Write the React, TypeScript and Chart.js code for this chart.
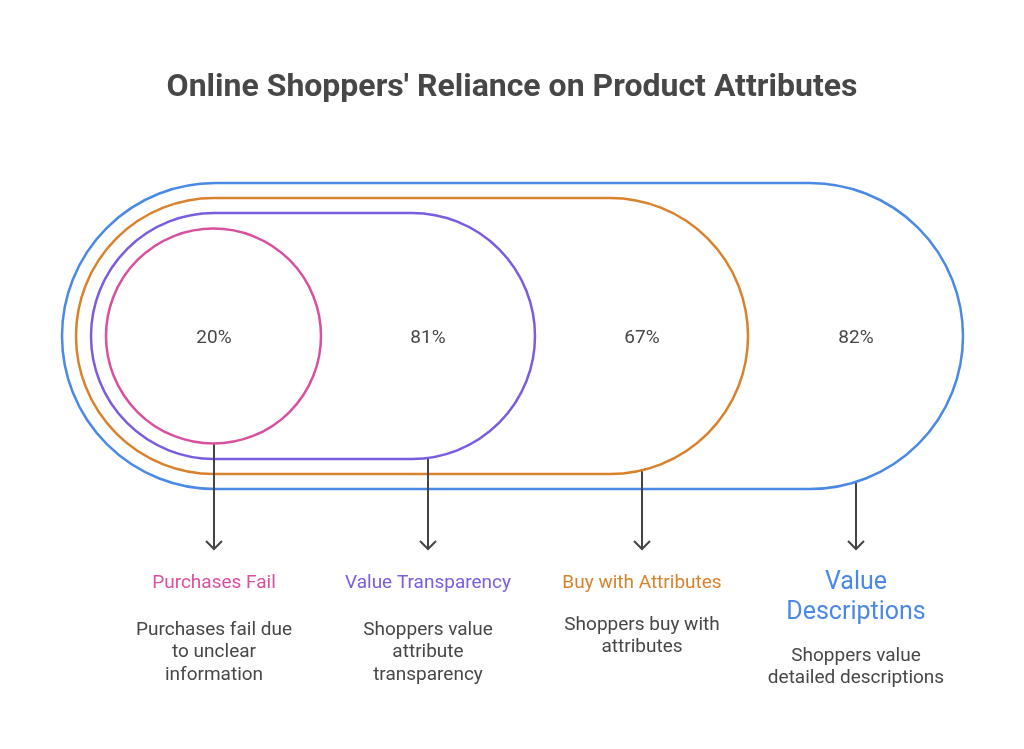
import React, { useEffect, useRef } from "react";
import { Chart, registerables } from "chart.js";

Chart.register(...registerables);

const title = "Online Shoppers' Reliance on Product Attributes";
const categories = ["Purchases Fail", "Value Transparency", "Buy with Attributes", "Value Descriptions"];
const values = [20, 81, 67, 82];
const descriptions = [
  ["Purchases fail due", "to unclear", "information"],
  ["Shoppers value", "attribute", "transparency"],
  ["Shoppers buy with", "attributes"],
  ["Shoppers value", "detailed descriptions"],
];
const headingLines = [["Purchases Fail"], ["Value Transparency"], ["Buy with Attributes"], ["Value", "Descriptions"]];

// layout (not data)
const colors = ["#d9509f", "#7b5ce0", "#d9822e", "#4a89e6"];
const labelX = [214, 428, 642, 856];
const centerY = 336;
const shapes = [
  { left: 106, right: 321, r: 107.5 },
  { left: 91, right: 535, r: 123 },
  { left: 76, right: 748, r: 138 },
  { left: 62, right: 963, r: 153 },
];
const arrowEnd = 549;
const FONT = "Roboto, 'Noto Sans', sans-serif";
const TY = 2; // text baseline correction

const diagramPlugin = {
  id: "diagram",
  afterDatasetsDraw(chart: any) {
    const ctx = chart.ctx as CanvasRenderingContext2D;
    const xs = chart.scales.x;
    const ys = chart.scales.y;
    const X = (v: number) => xs.getPixelForValue(v);
    const Y = (v: number) => ys.getPixelForValue(v);
    ctx.save();
    ctx.fillStyle = "#474747";
    ctx.textAlign = "center";
    ctx.textBaseline = "middle";
    ctx.font = `bold 32px ${FONT}`;
    ctx.fillText(title, X(512), Y(86 + TY));

    for (let i = shapes.length - 1; i >= 0; i--) {
      const s = shapes[i];
      const cyp = Y(centerY);
      const r = X(s.left + s.r) - X(s.left);
      const lc = X(s.left) + r;
      const rc = X(s.right) - r;
      ctx.beginPath();
      ctx.moveTo(lc, cyp - r);
      ctx.lineTo(rc, cyp - r);
      ctx.arc(rc, cyp, r, -Math.PI / 2, Math.PI / 2);
      ctx.lineTo(lc, cyp + r);
      ctx.arc(lc, cyp, r, Math.PI / 2, (3 * Math.PI) / 2);
      ctx.closePath();
      ctx.strokeStyle = colors[i];
      ctx.lineWidth = 2.5;
      ctx.stroke();
    }

    ctx.strokeStyle = "#444444";
    ctx.lineWidth = 2;
    labelX.forEach((lx, i) => {
      const s = shapes[i];
      const rc = s.right - s.r;
      let yb = centerY + s.r;
      if (lx > rc) {
        const dx = lx - rc;
        yb = centerY + Math.sqrt(Math.max(0, s.r * s.r - dx * dx));
      }
      const px = X(lx);
      ctx.beginPath();
      ctx.moveTo(px, Y(yb) + 1);
      ctx.lineTo(px, Y(arrowEnd));
      ctx.stroke();
      ctx.beginPath();
      ctx.moveTo(px - 8, Y(arrowEnd) - 8);
      ctx.lineTo(px, Y(arrowEnd));
      ctx.lineTo(px + 8, Y(arrowEnd) - 8);
      ctx.stroke();
    });

    ctx.fillStyle = "#474747";
    ctx.font = `19px ${FONT}`;
    values.forEach((v, i) => {
      ctx.fillText(`${v}%`, X(labelX[i]), Y(centerY + TY));
    });

    const headY = [581, 581, 581, 581];
    const descY = [628, 628, 623, 654];
    categories.forEach((c, i) => {
      ctx.fillStyle = colors[i];
      const big = i === 3;
      ctx.font = `${big ? 25 : 19}px ${FONT}`;
      headingLines[i].forEach((line, j) => {
        ctx.fillText(line, X(labelX[i]), Y(headY[i] + j * 30 + TY));
      });
      ctx.fillStyle = "#474747";
      ctx.font = `19px ${FONT}`;
      descriptions[i].forEach((line, j) => {
        ctx.fillText(line, X(labelX[i]), Y(descY[i] + j * 22.5 + TY));
      });
    });
    ctx.restore();
  },
};

export default function App() {
  const ref = useRef<HTMLCanvasElement>(null);
  useEffect(() => {
    if (!ref.current) return;
    const chart = new Chart(ref.current, {
      type: "scatter",
      data: {
        datasets: [
          {
            label: "values",
            data: values.map((v, i) => ({ x: labelX[i], y: centerY })),
            pointRadius: 0,
            showLine: false,
          },
        ],
      },
      options: {
        responsive: false,
        animation: false,
        layout: { padding: 0 },
        plugins: { legend: { display: false }, tooltip: { enabled: false }, title: { display: false } },
        scales: {
          x: { type: "linear", min: 0, max: 1024, display: false },
          y: { type: "linear", min: 0, max: 749, reverse: true, display: false },
        },
      },
      plugins: [diagramPlugin],
    });
    return () => chart.destroy();
  }, []);
  return (
    <div style={{ position: "fixed", left: 0, top: 0, width: 1024, height: 749, background: "#fff" }}>
      <canvas ref={ref} width={1024} height={749} />
    </div>
  );
}
